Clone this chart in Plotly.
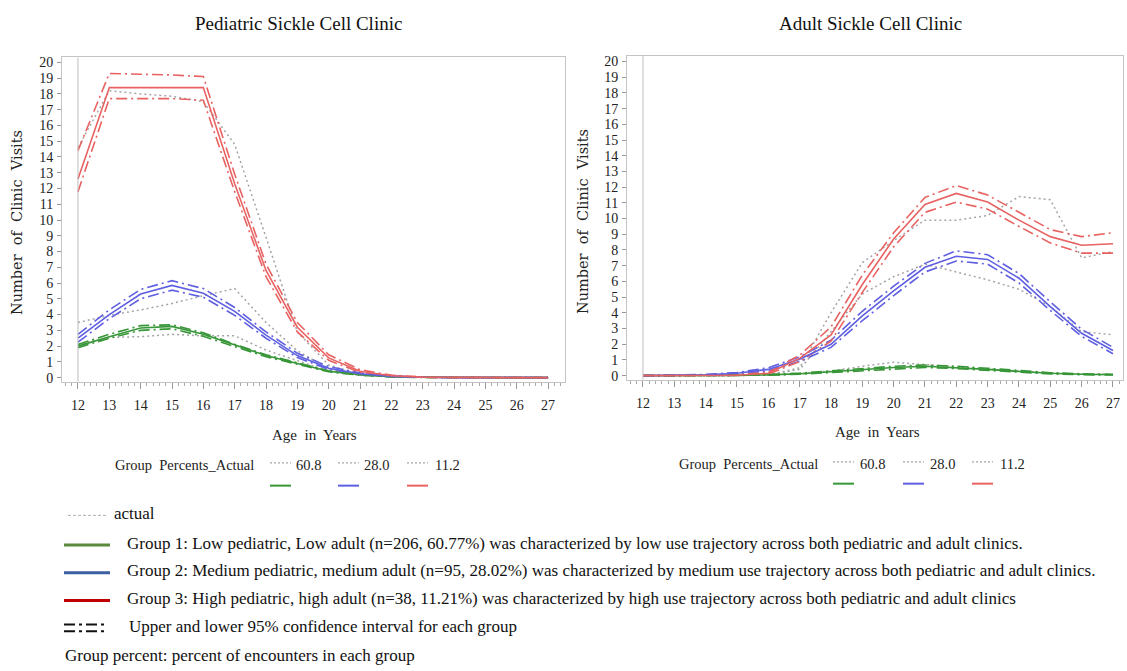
import plotly.graph_objects as go

# ---------------- data ----------------
ages = [12, 13, 14, 15, 16, 17, 18, 19, 20, 21, 22, 23, 24, 25, 26, 27]

# Pediatric clinic
ped_g1 = [2.0, 2.6, 3.15, 3.25, 2.75, 2.05, 1.4, 0.9, 0.4, 0.18, 0.06, 0.02, 0.01, 0, 0, 0]
ped_g1_up = [2.1, 2.75, 3.3, 3.35, 2.85, 2.12, 1.45, 0.95, 0.44, 0.2, 0.07, 0.02, 0.01, 0, 0, 0]
ped_g1_lo = [1.9, 2.5, 3.0, 3.1, 2.62, 1.95, 1.33, 0.85, 0.37, 0.15, 0.05, 0.01, 0, 0, 0, 0]
ped_g1_act = [2.1, 2.55, 2.6, 2.75, 2.65, 2.65, 1.75, 1.1, 0.4, 0.15, 0.05, 0.02, 0.01, 0, 0, 0]

ped_g2 = [2.5, 4.0, 5.3, 5.85, 5.35, 4.2, 2.7, 1.4, 0.6, 0.25, 0.08, 0.02, 0.01, 0, 0, 0]
ped_g2_up = [2.75, 4.3, 5.6, 6.15, 5.65, 4.45, 2.9, 1.55, 0.7, 0.3, 0.1, 0.03, 0.01, 0, 0, 0]
ped_g2_lo = [2.25, 3.75, 5.0, 5.55, 5.1, 3.95, 2.5, 1.28, 0.52, 0.2, 0.06, 0.01, 0, 0, 0, 0]
ped_g2_act = [3.5, 3.95, 4.3, 4.7, 5.2, 5.65, 3.5, 1.7, 0.57, 0.2, 0.06, 0.02, 0.01, 0, 0, 0]

ped_g3 = [12.6, 18.4, 18.4, 18.4, 18.4, 12.3, 6.8, 3.2, 1.25, 0.4, 0.12, 0.03, 0.01, 0, 0, 0]
ped_g3_up = [14.4, 19.3, 19.25, 19.2, 19.1, 12.9, 7.2, 3.5, 1.45, 0.5, 0.16, 0.04, 0.01, 0, 0, 0]
ped_g3_lo = [11.8, 17.7, 17.7, 17.7, 17.6, 11.8, 6.4, 2.9, 1.1, 0.33, 0.09, 0.02, 0, 0, 0, 0]
ped_g3_act = [14.6, 18.2, 18.0, 17.85, 17.5, 14.8, 8.9, 2.9, 0.8, 0.2, 0.05, 0.01, 0, 0, 0, 0]

# Adult clinic
ad_g1 = [0, 0, 0.01, 0.02, 0.05, 0.12, 0.25, 0.4, 0.52, 0.6, 0.52, 0.4, 0.27, 0.15, 0.09, 0.06]
ad_g1_up = [0, 0.01, 0.02, 0.04, 0.08, 0.16, 0.3, 0.46, 0.6, 0.68, 0.6, 0.47, 0.32, 0.19, 0.12, 0.09]
ad_g1_lo = [0, 0, 0, 0.01, 0.03, 0.09, 0.2, 0.34, 0.45, 0.52, 0.45, 0.34, 0.22, 0.11, 0.06, 0.04]
ad_g1_act = [0, 0, 0.01, 0.02, 0.05, 0.1, 0.3, 0.6, 0.85, 0.7, 0.55, 0.42, 0.3, 0.17, 0.1, 0.08]

ad_g2 = [0, 0.02, 0.05, 0.15, 0.4, 1.05, 2.0, 3.8, 5.4, 6.9, 7.6, 7.4, 6.2, 4.4, 2.7, 1.6]
ad_g2_up = [0, 0.03, 0.08, 0.2, 0.5, 1.2, 2.25, 4.1, 5.7, 7.15, 7.95, 7.7, 6.5, 4.7, 2.95, 1.8]
ad_g2_lo = [0, 0.01, 0.03, 0.1, 0.3, 0.9, 1.8, 3.5, 5.1, 6.6, 7.3, 7.1, 5.9, 4.15, 2.5, 1.4]
ad_g2_act = [0, 0, 0.01, 0.02, 0.05, 0.4, 2.8, 5.2, 6.3, 7.1, 6.6, 6.1, 5.5, 4.4, 2.8, 2.6]

ad_g3 = [0, 0, 0.01, 0.03, 0.15, 1.1, 2.6, 5.8, 8.7, 10.9, 11.6, 11.05, 9.9, 8.85, 8.3, 8.4]
ad_g3_up = [0, 0.01, 0.02, 0.06, 0.22, 1.3, 3.1, 6.4, 9.1, 11.35, 12.1, 11.5, 10.4, 9.3, 8.85, 9.1]
ad_g3_lo = [0, 0, 0, 0.01, 0.09, 0.9, 2.2, 5.3, 8.2, 10.4, 11.05, 10.6, 9.5, 8.45, 7.8, 7.8]
ad_g3_act = [0, 0, 0, 0.01, 0.05, 0.5, 4.0, 7.2, 8.6, 9.9, 9.9, 10.2, 11.4, 11.2, 7.5, 7.9]

group_pct_labels = ["60.8", "28.0", "11.2"]
panel_titles = ["Pediatric Sickle Cell Clinic", "Adult Sickle Cell Clinic"]
footnotes = [
    "actual",
    "Group 1: Low pediatric, Low adult (n=206, 60.77%) was characterized by low use trajectory across both pediatric and adult clinics.",
    "Group 2: Medium pediatric, medium adult (n=95, 28.02%) was characterized by medium use trajectory across both pediatric and adult clinics.",
    "Group 3: High pediatric, high adult (n=38, 11.21%) was characterized by high use trajectory across both pediatric and adult clinics",
    "Upper and lower 95% confidence interval for each group",
    "Group percent: percent of encounters in each group",
]

# ---------------- styling ----------------
W, H = 1127, 671
def px(x):
    return x / W
def py(y):
    return 1 - y / H

plot_colors = ["rgb(55,150,55)", "rgb(95,95,225)", "rgb(232,98,98)"]
foot_colors = ["#5b8a3c", "#3c5fa0", "#c00000"]
gray = "rgb(165,165,165)"
ci_dash = "11px,4px,2px,4px"
act_dash = "2px,3px"
serif = "Liberation Serif, Times New Roman, serif"
tickfont = dict(family=serif, size=14, color="#222")

fig = go.Figure()

panels = [
    ("x", "y", [ped_g1, ped_g2, ped_g3], [ped_g1_up, ped_g2_up, ped_g3_up],
     [ped_g1_lo, ped_g2_lo, ped_g3_lo], [ped_g1_act, ped_g2_act, ped_g3_act]),
    ("x2", "y2", [ad_g1, ad_g2, ad_g3], [ad_g1_up, ad_g2_up, ad_g3_up],
     [ad_g1_lo, ad_g2_lo, ad_g3_lo], [ad_g1_act, ad_g2_act, ad_g3_act]),
]

for xa, ya, fits, ups, los, acts in panels:
    for act in acts:
        fig.add_trace(go.Scatter(x=ages, y=act, xaxis=xa, yaxis=ya, mode="lines",
                                 line=dict(color=gray, width=1.5, dash=act_dash),
                                 showlegend=False, hoverinfo="skip"))
    for i in range(3):
        for band in (ups[i], los[i]):
            fig.add_trace(go.Scatter(x=ages, y=band, xaxis=xa, yaxis=ya, mode="lines",
                                     line=dict(color=plot_colors[i], width=1.6, dash=ci_dash),
                                     showlegend=False, hoverinfo="skip"))
    for i in range(3):
        fig.add_trace(go.Scatter(x=ages, y=fits[i], xaxis=xa, yaxis=ya, mode="lines",
                                 line=dict(color=plot_colors[i], width=1.6),
                                 showlegend=False, hoverinfo="skip"))

def xaxis_cfg(domain, rng):
    return dict(domain=domain, range=rng, tickvals=ages, ticktext=[str(a) for a in ages],
                ticks="outside", ticklen=6, tickcolor="#999", tickwidth=1,
                minor=dict(dtick=0.2, tick0=12, ticks="outside", ticklen=3, tickcolor="#aaa"),
                showline=True, mirror=True, linecolor="#c4c4c4", linewidth=1,
                showgrid=False, zeroline=False, tickfont=tickfont, ticklabelstandoff=5)

def yaxis_cfg(domain, rng, anchor):
    return dict(domain=domain, range=rng, tick0=0, dtick=1, anchor=anchor,
                ticks="outside", ticklen=4, tickcolor="#999",
                showline=True, mirror=True, linecolor="#c4c4c4", linewidth=1,
                showgrid=False, zeroline=False, tickfont=tickfont, ticklabelstandoff=1)

fig.update_layout(
    width=W, height=H, margin=dict(l=0, r=0, t=0, b=0),
    paper_bgcolor="white", plot_bgcolor="white", showlegend=False,
    xaxis=dict(xaxis_cfg([px(62), px(565)], [11.49, 27.54]), anchor="y"),
    yaxis=yaxis_cfg([py(383), py(56)], [-0.25, 20.31], "x"),
    xaxis2=dict(xaxis_cfg([px(627), px(1123)], [11.49, 27.32]), anchor="y2"),
    yaxis2=yaxis_cfg([py(381), py(54)], [-0.25, 20.38], "x2"),
)

shapes = []
for xa, ya in (("x", "y"), ("x2", "y2")):
    shapes.append(dict(type="line", xref=xa, yref=ya + " domain", x0=ages[0], x1=ages[0],
                       y0=0, y1=1, line=dict(color="#bdbdbd", width=1)))

ann = []
def add_text(text, x, y, font, xanchor="center", yanchor="middle", **kw):
    ann.append(dict(text=text, x=px(x), y=py(y), xref="paper", yref="paper",
                    xanchor=xanchor, yanchor=yanchor, showarrow=False, font=font, **kw))

# panel titles
add_text(panel_titles[0], 298, 22, dict(family=serif, size=19, color="#111"))
add_text(panel_titles[1], 870, 22, dict(family=serif, size=19, color="#111"))
# y-axis titles
for xx, yy in ((17, 223), (583, 222)):
    add_text("Number  of  Clinic  Visits", xx, yy,
             dict(family="DejaVu Serif, serif", size=14.5, color="#222"), textangle=-90)
# x-axis titles
for xx, yy in ((314, 437), (878, 434)):
    add_text("Age  in  Years", xx, yy, dict(family=serif, size=15, color="#222"))

# group legends under each panel
legends = [
    dict(title_x=113, text_y=467, sample_y=488, items=[(270, 294), (338, 362), (407, 433)]),
    dict(title_x=677, text_y=466, sample_y=486, items=[(833, 858), (903, 928), (972, 998)]),
]
leg_font = dict(family=serif, size=14.5, color="#222")
for lg in legends:
    add_text("Group  Percents_Actual", lg["title_x"], lg["text_y"], leg_font, xanchor="left")
    for i, (sx, tx) in enumerate(lg["items"]):
        shapes.append(dict(type="line", xref="paper", yref="paper", x0=px(sx), x1=px(sx + 21),
                           y0=py(lg["text_y"] - 2), y1=py(lg["text_y"] - 2),
                           line=dict(color=gray, width=1.3, dash="2px,2px")))
        shapes.append(dict(type="line", xref="paper", yref="paper", x0=px(sx), x1=px(sx + 21),
                           y0=py(lg["sample_y"]), y1=py(lg["sample_y"]),
                           line=dict(color=plot_colors[i], width=2)))
        add_text(group_pct_labels[i], tx, lg["text_y"], leg_font, xanchor="left")

# footnotes
foot_font = dict(family=serif, size=17, color="#111")
shapes.append(dict(type="line", xref="paper", yref="paper", x0=px(68), x1=px(108),
                   y0=py(518), y1=py(518), line=dict(color="#b0b0b0", width=1, dash="3px,2px")))
add_text(footnotes[0], 112, 516, foot_font, xanchor="left")
for i, yy in enumerate((546, 574, 602)):
    shapes.append(dict(type="line", xref="paper", yref="paper", x0=px(64), x1=px(110),
                       y0=py(yy + 2), y1=py(yy + 2), line=dict(color=foot_colors[i], width=3)))
    add_text(footnotes[i + 1], 125, yy, foot_font, xanchor="left")
for yy in (628, 635):
    shapes.append(dict(type="line", xref="paper", yref="paper", x0=px(64), x1=px(106),
                       y0=py(yy), y1=py(yy), line=dict(color="#111", width=2, dash="11px,4px,3px,4px")))
add_text(footnotes[4], 127, 630, foot_font, xanchor="left")
add_text(footnotes[5], 63, 659, foot_font, xanchor="left")

fig.update_layout(shapes=shapes, annotations=ann)
fig.write_html("out.html", config={"displayModeBar": False},
               post_script="document.body.style.margin='0';document.body.style.overflow='hidden';")
